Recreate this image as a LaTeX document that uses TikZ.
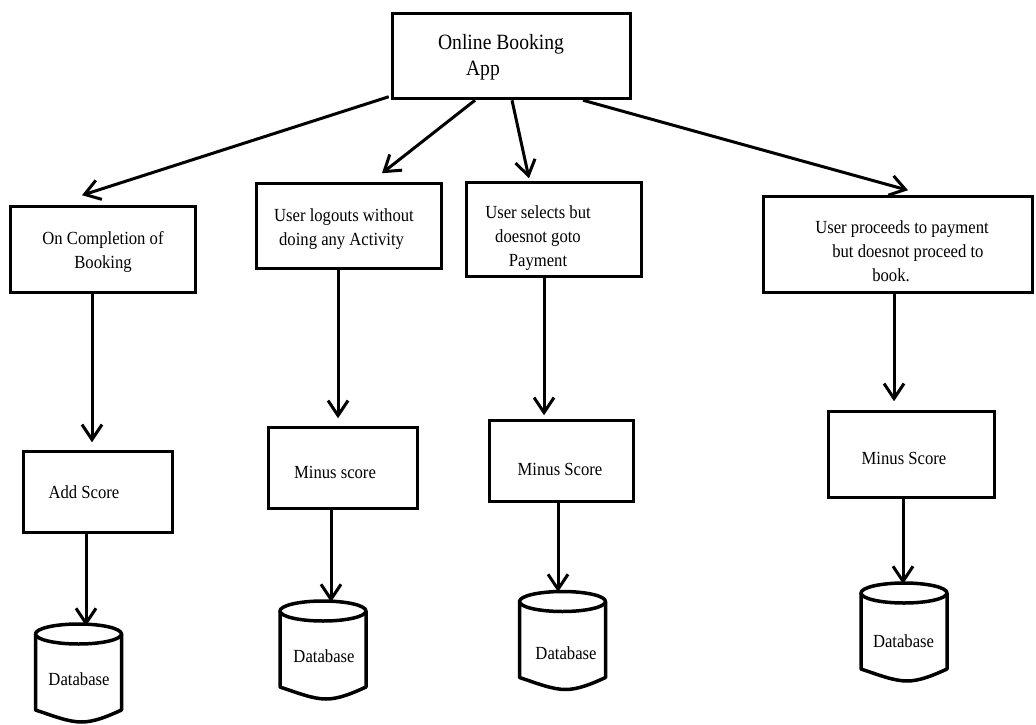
\documentclass[tikz,border=0pt]{standalone}
\usepackage{fontspec}
\setmainfont{Liberation Serif}[FakeStretch=0.9]
\usetikzlibrary{arrows.meta}
\tikzset{
  box/.style={draw, line width=3.5pt, rectangle, inner sep=0pt},
  txt/.style={inner sep=0pt, font=\fontsize{18.5}{24}\selectfont},
  toptxt/.style={inner sep=0pt, font=\fontsize{21.8}{26}\selectfont},
  arr/.style={line width=3pt, -{Straight Barb[length=15pt,width=20pt]}},
  dbline/.style={line width=3.5pt, line join=round},
  db/.pic={
    \draw[dbline] (-43,0) -- (-43,76) .. controls (-25,82) and (-10,88) .. (3,88) .. controls (16,88) and (30,82) .. (43,76) -- (43,0);
    \draw[dbline, fill=white] (0,0) ellipse [x radius=43, y radius=10];
    \coordinate (-top) at (0,-10);
  }
}
\begin{document}
\begin{tikzpicture}[x=1pt,y=-1pt]
\useasboundingbox (0,0) rectangle (1036,725);
\fill[white] (0,0) rectangle (1036,725);

% boxes
\node[box, minimum width=238pt, minimum height=85pt] (app) at (511.5,56) {};
\node[box, minimum width=185pt, minimum height=86pt] (b1) at (103,249.5) {};
\node[box, minimum width=185pt, minimum height=85pt] (b2) at (349,226) {};
\node[box, minimum width=175pt, minimum height=94pt] (b3) at (554,229.5) {};
\node[box, minimum width=269pt, minimum height=96pt] (b4) at (898,244.5) {};
\node[box, minimum width=149pt, minimum height=81pt] (add) at (98,492) {};
\node[box, minimum width=149pt, minimum height=81pt] (m2) at (343,468) {};
\node[box, minimum width=144pt, minimum height=81pt] (m3) at (561.5,461) {};
\node[box, minimum width=166pt, minimum height=86pt] (m4) at (911.5,454.5) {};

% texts
\node[toptxt, align=left] (t0) at (501,57) {Online Booking\\\hspace*{28pt}App};
\node[txt, align=center] (t1) at (103,252) {On Completion of\\Booking};
\node[txt, align=left] (t2) at (344,229) {User logouts without\\\hspace*{5pt}doing any Activity};
\node[txt, align=center] (t3) at (538,238) {User selects but\\doesnot goto\\Payment};
\node[txt, align=left] (t4) at (902,251.5) {User proceeds to payment\\\hspace*{17pt}but doesnot proceed to\\\hspace*{57pt}book.};
\node[txt] (ta) at (84,492) {Add Score};
\node[txt] (tm2) at (335,472) {Minus score};
\node[txt] (tm3) at (560,469) {Minus Score};
\node[txt] (tm4) at (904,458) {Minus Score};

% databases
\pic (db1) at (78.5,634) {db};
\pic (db2) at (323,611) {db};
\pic (db3) at (562.5,601.5) {db};
\pic (db4) at (904,593) {db};
\node[txt] (d1) at (79,679) {Database};
\node[txt] (d2) at (324,656) {Database};
\node[txt] (d3) at (566,653) {Database};
\node[txt] (d4) at (903.5,641) {Database};

% top connectors
\draw[arr] ([xshift=-2pt,yshift=3.5pt]app.south west) -- ([xshift=-21pt,yshift=9.5pt]b1.north);
\draw[arr] ([xshift=-36.5pt]app.south) -- ([xshift=33pt,yshift=8.5pt]b2.north);
\draw[arr] ([xshift=0.5pt]app.south) -- ([xshift=-25pt,yshift=2.5pt]b3.north);
\draw[arr] ([xshift=71.5pt]app.south) -- ([xshift=10pt,yshift=4.5pt]b4.north);

% vertical connectors
\draw[arr] ([xshift=-11pt]b1.south) -- ([xshift=-6pt,yshift=7.5pt]add.north);
\draw[arr] ([xshift=-11pt]b2.south) -- ([xshift=-5pt,yshift=7.5pt]m2.north);
\draw[arr] ([xshift=-10pt]b3.south) -- ([xshift=-17.5pt,yshift=3.5pt]m3.north);
\draw[arr] ([xshift=-4pt]b4.south) -- ([xshift=-17.5pt,yshift=8.5pt]m4.north);

\draw[arr] ([xshift=-12pt]add.south) -- ([xshift=7.5pt,yshift=-2pt]db1-top);
\draw[arr] ([xshift=-12pt]m2.south) -- ([xshift=8pt,yshift=-1pt]db2-top);
\draw[arr] ([xshift=-3.5pt]m3.south) -- ([xshift=-4.5pt,yshift=-0.5pt]db3-top);
\draw[arr] ([xshift=-8.5pt]m4.south) -- ([xshift=-1pt,yshift=-1pt]db4-top);
\end{tikzpicture}
\end{document}
